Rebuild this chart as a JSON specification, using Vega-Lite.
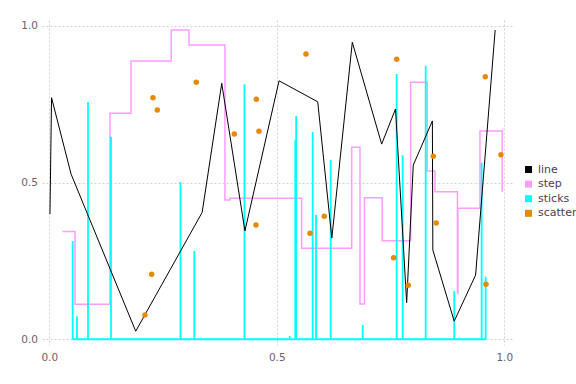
{
  "$schema": "https://vega.github.io/schema/vega-lite/v6.json",
  "autosize": {"type": "none"},
  "padding": {"left": 42, "top": 20, "right": 64, "bottom": 39},
  "width": 470,
  "height": 325,
  "background": "white",
  "config": {
    "view": {"stroke": null},
    "axis": {
      "domain": false,
      "ticks": false,
      "title": null,
      "labelColor": "#6c606b",
      "labelFont": "DejaVu Sans",
      "labelFontSize": 10.5,
      "gridColor": "#d0d0e0",
      "gridDash": [2, 2],
      "gridWidth": 1
    },
    "legend": {
      "orient": "none",
      "legendX": 481,
      "legendY": 144,
      "title": null,
      "padding": 0,
      "symbolType": "square",
      "symbolSize": 49,
      "symbolStrokeWidth": 0,
      "labelFont": "DejaVu Sans",
      "labelFontSize": 11,
      "labelColor": "#4c404b",
      "labelOffset": 4,
      "rowPadding": 2.6
    }
  },
  "datasets": {
    "line": [
      {"x": 0.0015, "y": 0.40}, {"x": 0.005, "y": 0.771}, {"x": 0.048, "y": 0.527}, {"x": 0.19, "y": 0.026},
      {"x": 0.336, "y": 0.405}, {"x": 0.379, "y": 0.817}, {"x": 0.430, "y": 0.346}, {"x": 0.505, "y": 0.825},
      {"x": 0.590, "y": 0.758}, {"x": 0.621, "y": 0.323}, {"x": 0.666, "y": 0.948}, {"x": 0.7305, "y": 0.623},
      {"x": 0.761, "y": 0.735}, {"x": 0.7855, "y": 0.117}, {"x": 0.800, "y": 0.556}, {"x": 0.842, "y": 0.697},
      {"x": 0.843, "y": 0.285}, {"x": 0.890, "y": 0.058}, {"x": 0.937, "y": 0.205}, {"x": 0.980, "y": 0.987}
    ],
    "step": [
      {"x": 0.0292, "y": 0.344}, {"x": 0.0565, "y": 0.112}, {"x": 0.1334, "y": 0.7213}, {"x": 0.1796, "y": 0.888},
      {"x": 0.268, "y": 0.987}, {"x": 0.307, "y": 0.939}, {"x": 0.386, "y": 0.445}, {"x": 0.397, "y": 0.4505},
      {"x": 0.5547, "y": 0.2905}, {"x": 0.6646, "y": 0.6128}, {"x": 0.6829, "y": 0.1127}, {"x": 0.6927, "y": 0.452},
      {"x": 0.7319, "y": 0.3148}, {"x": 0.7943, "y": 0.8203}, {"x": 0.8307, "y": 0.5372}, {"x": 0.8477, "y": 0.4711},
      {"x": 0.8971, "y": 0.1465}, {"x": 0.8982, "y": 0.4181}, {"x": 0.9466, "y": 0.6652}, {"x": 0.9956, "y": 0.4711}
    ],
    "sticks": [
      {"x": 0.0514, "y": 0.3138}, {"x": 0.0609, "y": 0.0734}, {"x": 0.0851, "y": 0.7574}, {"x": 0.1356, "y": 0.6467},
      {"x": 0.2884, "y": 0.5021}, {"x": 0.3187, "y": 0.2818}, {"x": 0.429, "y": 0.8139}, {"x": 0.5283, "y": 0.0105},
      {"x": 0.5407, "y": 0.6361}, {"x": 0.5426, "y": 0.7127}, {"x": 0.5789, "y": 0.6617}, {"x": 0.5862, "y": 0.3967},
      {"x": 0.6185, "y": 0.5723}, {"x": 0.6888, "y": 0.0456}, {"x": 0.7635, "y": 0.8468}, {"x": 0.7767, "y": 0.5873},
      {"x": 0.8273, "y": 0.8733}, {"x": 0.8901, "y": 0.1542}, {"x": 0.9503, "y": 0.5637}, {"x": 0.9591, "y": 0.1998}
    ],
    "scatter": [
      {"x": 0.2103, "y": 0.0776}, {"x": 0.2251, "y": 0.2075}, {"x": 0.2279, "y": 0.7712}, {"x": 0.2374, "y": 0.7319},
      {"x": 0.3231, "y": 0.8203}, {"x": 0.4066, "y": 0.6553}, {"x": 0.4543, "y": 0.3648}, {"x": 0.455, "y": 0.766},
      {"x": 0.4609, "y": 0.6639}, {"x": 0.5642, "y": 0.9106}, {"x": 0.573, "y": 0.3383}, {"x": 0.6044, "y": 0.3926},
      {"x": 0.7569, "y": 0.2605}, {"x": 0.7635, "y": 0.8937}, {"x": 0.789, "y": 0.1724}, {"x": 0.844, "y": 0.5841},
      {"x": 0.8505, "y": 0.3712}, {"x": 0.9582, "y": 0.8382}, {"x": 0.9598, "y": 0.1755}, {"x": 0.9927, "y": 0.5892}
    ]
  },
  "layer": [
    {
      "data": {"name": "step"},
      "mark": {"type": "line", "interpolate": "step-after", "strokeWidth": 1.5},
      "encoding": {
        "x": {"field": "x", "type": "quantitative", "scale": {"domain": [-0.016, 1.017], "nice": false, "zero": false}, "axis": {"values": [0, 0.5, 1], "format": ".1f", "labelPadding": 7}},
        "y": {"field": "y", "type": "quantitative", "scale": {"domain": [-0.018, 1.019], "nice": false, "zero": false}, "axis": {"values": [0, 0.5, 1], "format": ".1f", "labelPadding": 4.5}},
        "color": {
          "datum": "step",
          "type": "nominal",
          "scale": {"domain": ["line", "step", "sticks", "scatter"], "range": ["#000000", "#ff9cff", "#00ffff", "#e88a00"]},
          "legend": {"encode": {"symbols": {"update": {"fill": {"scale": "color", "field": "value"}, "opacity": {"value": 1}}}}}
        }
      }
    },
    {
      "data": {"name": "sticks"},
      "mark": {"type": "rule", "strokeWidth": 1.8},
      "encoding": {
        "x": {"field": "x", "type": "quantitative"},
        "y": {"field": "y", "type": "quantitative"},
        "y2": {"datum": 0},
        "color": {"datum": "sticks", "type": "nominal"}
      }
    },
    {
      "data": {"name": "sticks"},
      "mark": {"type": "rule", "strokeWidth": 2},
      "encoding": {
        "x": {"aggregate": "min", "field": "x", "type": "quantitative"},
        "x2": {"aggregate": "max", "field": "x"},
        "y": {"datum": 0, "type": "quantitative"},
        "color": {"datum": "sticks", "type": "nominal"}
      }
    },
    {
      "data": {"name": "line"},
      "mark": {"type": "line", "strokeWidth": 1},
      "encoding": {
        "x": {"field": "x", "type": "quantitative"},
        "y": {"field": "y", "type": "quantitative"},
        "color": {"datum": "line", "type": "nominal"}
      }
    },
    {
      "data": {"name": "scatter"},
      "mark": {"type": "point", "filled": true, "opacity": 1, "size": 30},
      "encoding": {
        "x": {"field": "x", "type": "quantitative"},
        "y": {"field": "y", "type": "quantitative"},
        "color": {"datum": "scatter", "type": "nominal"}
      }
    }
  ]
}
